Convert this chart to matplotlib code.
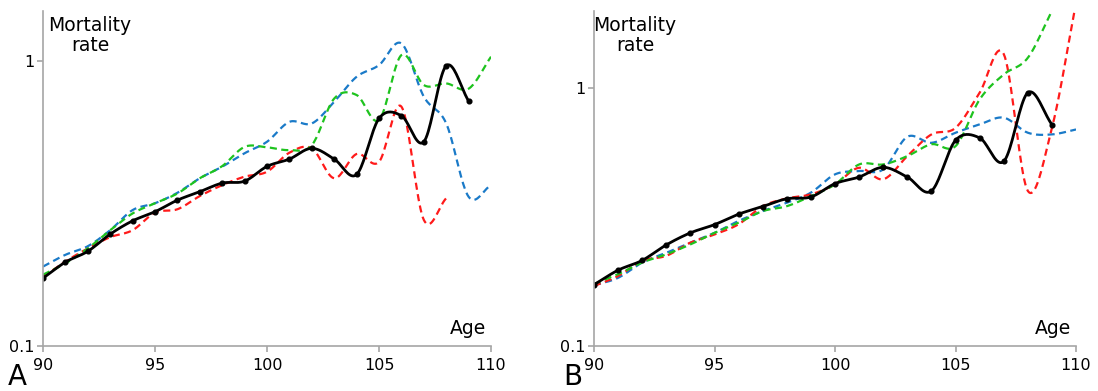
import numpy as np
import matplotlib.pyplot as plt

# observed mortality rate by age (same in both panels)
ages = np.arange(90, 110)
observed = [0.173, 0.197, 0.215, 0.247, 0.275, 0.296, 0.325, 0.348, 0.373, 0.379,
            0.427, 0.453, 0.494, 0.453, 0.400, 0.629, 0.643, 0.521, 0.963, 0.724]

# panel A model curves
a_blue_x = np.arange(90, 111)
a_blue = [0.190, 0.209, 0.224, 0.255, 0.300, 0.317, 0.345, 0.388, 0.426, 0.475,
          0.521, 0.612, 0.604, 0.720, 0.881, 0.968, 1.153, 0.750, 0.604, 0.334, 0.367]
a_green_x = np.arange(90, 111)
a_green = [0.178, 0.195, 0.220, 0.255, 0.292, 0.317, 0.343, 0.388, 0.428, 0.500,
           0.498, 0.487, 0.507, 0.739, 0.760, 0.621, 1.050, 0.824, 0.835, 0.800, 1.036]
a_red_x = np.arange(90, 109)
a_red = [0.175, 0.198, 0.220, 0.241, 0.255, 0.294, 0.302, 0.336, 0.367, 0.393,
         0.409, 0.477, 0.494, 0.388, 0.472, 0.443, 0.692, 0.277, 0.330]

# panel B model curves
b_blue_x = np.arange(90, 111)
b_blue = [0.172, 0.184, 0.211, 0.230, 0.252, 0.275, 0.306, 0.334, 0.360, 0.394,
          0.464, 0.478, 0.485, 0.649, 0.615, 0.673, 0.725, 0.770, 0.673, 0.663, 0.693]
b_green_x = np.arange(90, 111)
b_green = [0.174, 0.190, 0.211, 0.227, 0.248, 0.275, 0.301, 0.334, 0.349, 0.382,
           0.424, 0.507, 0.507, 0.546, 0.607, 0.597, 0.906, 1.133, 1.315, 2.000, 3.000]
b_red_x = np.arange(90, 111)
b_red = [0.171, 0.187, 0.214, 0.224, 0.252, 0.271, 0.297, 0.349, 0.374, 0.388,
         0.424, 0.492, 0.444, 0.546, 0.663, 0.703, 0.962, 1.360, 0.400, 0.703, 2.150]


def smooth(x, y, n=20):
    # Catmull-Rom smoothing in log space, like a smoothed spreadsheet line
    x = np.asarray(x, float)
    ly = np.log10(y)
    px = np.concatenate([[2 * x[0] - x[1]], x, [2 * x[-1] - x[-2]]])
    py = np.concatenate([[2 * ly[0] - ly[1]], ly, [2 * ly[-1] - ly[-2]]])
    xs, ys = [], []
    t = np.linspace(0, 1, n, endpoint=False)
    for i in range(1, len(px) - 2):
        for p, out in ((px, xs), (py, ys)):
            p0, p1, p2, p3 = p[i - 1], p[i], p[i + 1], p[i + 2]
            out.append(0.5 * (2 * p1 + (-p0 + p2) * t
                              + (2 * p0 - 5 * p1 + 4 * p2 - p3) * t ** 2
                              + (-p0 + 3 * p1 - 3 * p2 + p3) * t ** 3))
    xs.append([x[-1]])
    ys.append([ly[-1]])
    return np.concatenate(xs), 10 ** np.concatenate(ys)


blue = '#1a7ac8'
green = '#1ec31e'
red = '#ff1a1a'
grey = '#a6a6a6'

fig = plt.figure(figsize=(10.98, 3.91), dpi=100)
axA = fig.add_axes([0.0392, 0.1151, 0.408, 0.857])
axB = fig.add_axes([0.541, 0.1151, 0.439, 0.857])

panels = [
    (axA, 1.5, [(a_blue_x, a_blue, blue), (a_red_x, a_red, red), (a_green_x, a_green, green)], 0.105, 'A', 0.007),
    (axB, 2.0, [(b_blue_x, b_blue, blue), (b_red_x, b_red, red), (b_green_x, b_green, green)], 0.085, 'B', 0.513),
]

for ax, ytop, curves, tx, letter, lx in panels:
    for cx, cy, col in curves:
        sx, sy = smooth(cx, cy)
        ax.plot(sx, sy, color=col, lw=1.6, dashes=(3.2, 2.0))
    sx, sy = smooth(ages, observed)
    ax.plot(sx, sy, color='black', lw=2.0)
    ax.plot(ages, observed, 'o', color='black', ms=3.4)

    ax.set_yscale('log')
    ax.set_xlim(90, 110)
    ax.set_ylim(0.1, ytop)
    ax.set_xticks([90, 95, 100, 105, 110])
    ax.set_yticks([0.1, 1])
    ax.set_yticklabels(['0.1', '1'])
    ax.minorticks_off()
    for s in ['top', 'right']:
        ax.spines[s].set_visible(False)
    for s in ['left', 'bottom']:
        ax.spines[s].set_color(grey)
        ax.spines[s].set_linewidth(1.2)
    ax.tick_params(axis='both', colors=grey, length=4, width=1.2, labelsize=11.5,
                   labelcolor='black')
    ax.tick_params(axis='x', pad=5)
    ax.tick_params(axis='y', pad=2)

    ax.text(tx, 0.985, 'Mortality\nrate', transform=ax.transAxes, ha='center', va='top',
            fontsize=13.5, linespacing=1.05)
    ax.text(0.99, 0.025, 'Age', transform=ax.transAxes, ha='right', va='bottom', fontsize=13.5)
    fig.text(lx, 0.0, letter, fontsize=20, ha='left', va='bottom')

fig.savefig('out.png', dpi=100)
